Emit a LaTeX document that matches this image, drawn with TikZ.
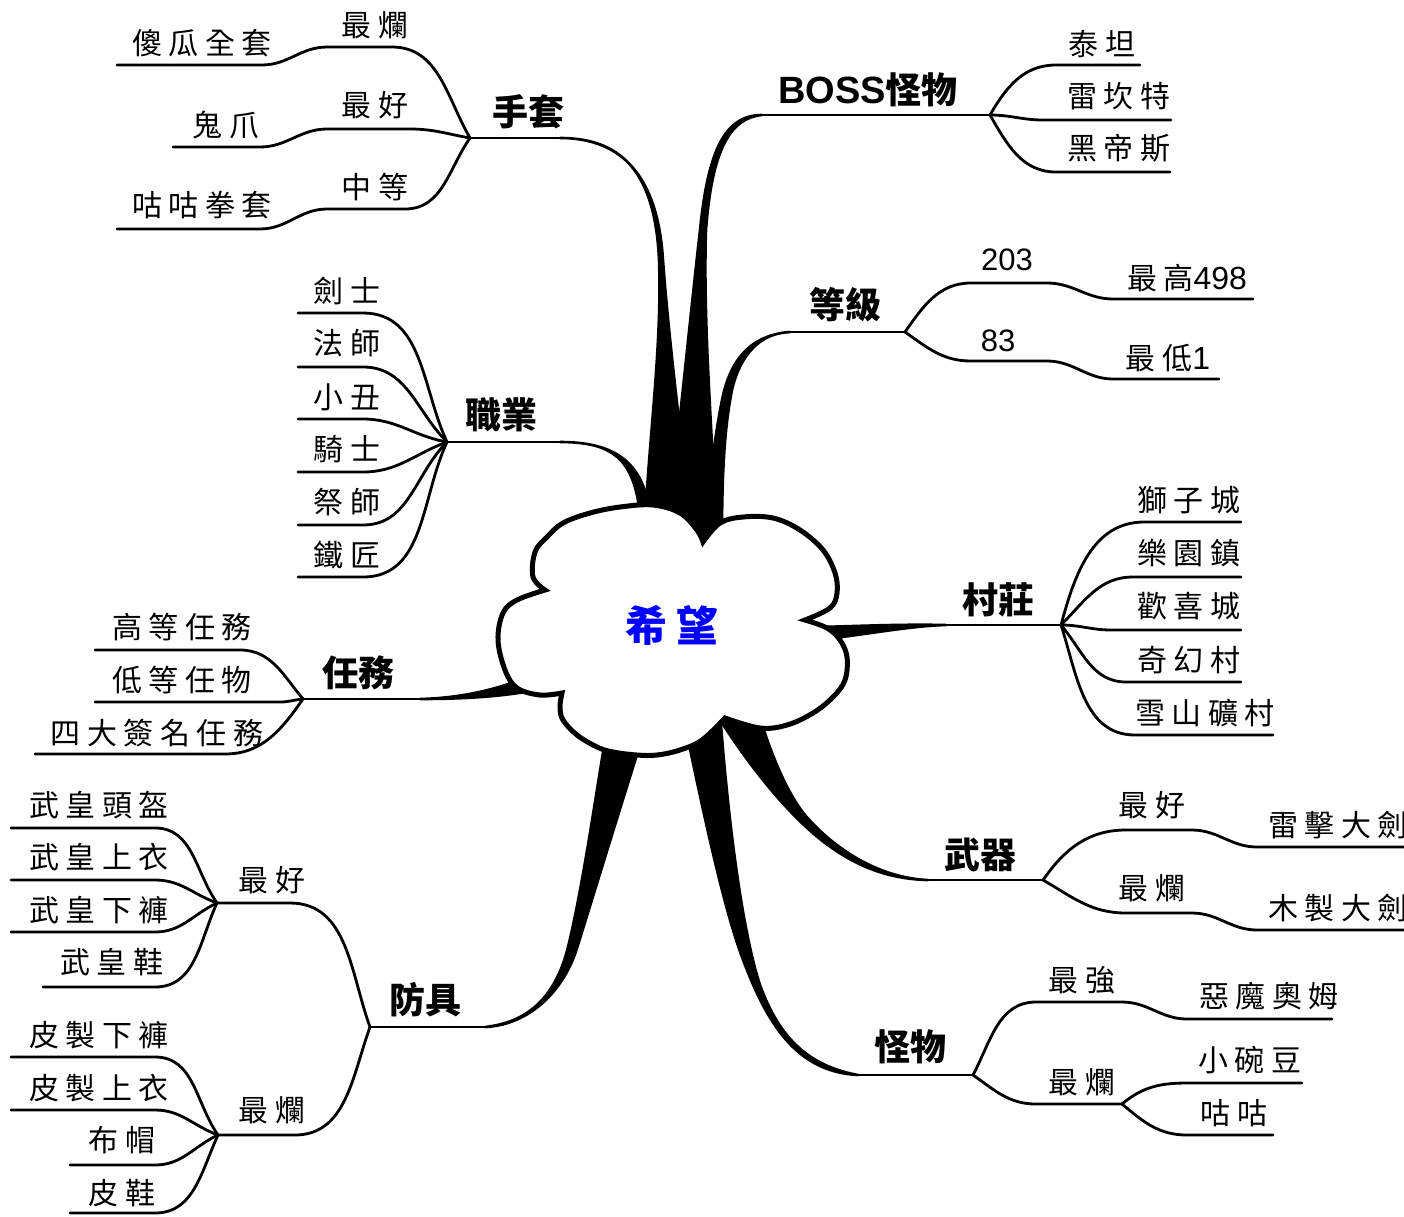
\documentclass[tikz,border=0pt]{standalone}
\usepackage{fontspec}
\setmainfont{Noto Sans CJK TC}
\newfontfamily\twigfont[LetterSpace=22]{Noto Sans CJK TC}
\newfontfamily\numfont{Liberation Sans}

\begin{document}
\begin{tikzpicture}[x=1pt, y=-1pt,
    leaf/.style={font=\twigfont\fontsize{30}{30}\selectfont, inner sep=0pt},
    num/.style={font=\numfont\fontsize{31}{31}\selectfont, inner sep=0pt},
    arm/.style={font=\bfseries\fontsize{36}{36}\selectfont, inner sep=0pt},
    twig/.style={line width=2.8pt, line cap=round, line join=round},
    limb/.style={fill=black, line width=2.6pt, line join=round},
    bubble/.style={fill=white, line width=5pt, line join=miter}]
    \useasboundingbox (0,0) rectangle (1404,1216);

    \coordinate (gl-fork) at (470,138);
    \coordinate (gl-end) at (560,138);
    \coordinate (job-fork) at (447,442);
    \coordinate (job-end) at (560,442);
    \coordinate (task-fork) at (303,699);
    \coordinate (task-end) at (420,699);
    \coordinate (arm-fork) at (370,1027);
    \coordinate (arm-end) at (485,1027);
    \coordinate (boss-end) at (762,115);
    \coordinate (boss-fork) at (990,115);
    \coordinate (lv-end) at (790,332);
    \coordinate (lv-fork) at (905,332);
    \coordinate (vil-end) at (946,625);
    \coordinate (vil-fork) at (1061,625);
    \coordinate (wpn-end) at (928,880);
    \coordinate (wpn-fork) at (1043,880);
    \coordinate (mon-end) at (858,1075);
    \coordinate (mon-fork) at (973,1075);

    \filldraw[limb] (gl-end) .. controls (620,138) and (655,170) .. (659,260)
        .. controls (662,340) and (650,430) .. (645,520) -- (692,530)
        .. controls (680,430) and (668,330) .. (663,260)
        .. controls (658,180) and (625,138) .. (gl-end) -- cycle;
    \filldraw[limb] (668,525) .. controls (680,420) and (692,300) .. (700,230)
        .. controls (708,150) and (725,115) .. (boss-end)
        .. controls (730,118) and (712,150) .. (706,230)
        .. controls (703,320) and (712,430) .. (717,540) -- cycle;
    \filldraw[limb] (lv-end) .. controls (750,335) and (730,360) .. (722,400)
        .. controls (716,430) and (710,470) .. (705,540) -- (722,535)
        .. controls (722,460) and (726,420) .. (732,390)
        .. controls (740,355) and (760,333) .. (lv-end) -- cycle;
    \filldraw[limb] (job-end) .. controls (612,442) and (634,458) .. (640,515) -- (650,515)
        .. controls (644,462) and (615,442) .. (job-end) -- cycle;
    \filldraw[limb] (task-end) .. controls (460,698) and (495,690) .. (525,678) -- (525,692)
        .. controls (495,697) and (460,699) .. (task-end) -- cycle;
    \filldraw[limb] (arm-end) .. controls (530,1022) and (556,995) .. (568,947)
        .. controls (582,890) and (595,800) .. (605,740) -- (640,745)
        .. controls (618,815) and (595,890) .. (578,945)
        .. controls (565,990) and (530,1025) .. (arm-end) -- cycle;
    \filldraw[limb] (687,735) .. controls (705,820) and (725,915) .. (745,965)
        .. controls (770,1030) and (800,1072) .. (mon-end)
        .. controls (810,1066) and (780,1040) .. (760,985)
        .. controls (742,930) and (728,820) .. (720,712) -- cycle;
    \filldraw[limb] (715,712) .. controls (745,760) and (780,805) .. (815,835)
        .. controls (845,860) and (880,879) .. (wpn-end)
        .. controls (880,878) and (835,850) .. (805,815)
        .. controls (785,790) and (770,750) .. (760,718) -- cycle;
    \filldraw[limb] (vil-end) .. controls (900,624) and (860,626) .. (818,627) -- (818,640)
        .. controls (870,634) and (910,626) .. (vil-end) -- cycle;

    \filldraw[bubble]
        plot[smooth, tension=0.6] coordinates {(545,590) (533,577) (535,552) (547,537) (563,523) (590,513) (620,507) (653,505) (680,513) (697,530) (703,542)}
        -- plot[smooth, tension=0.6] coordinates {(703,542) (720,523) (743,517) (773,518) (800,530) (823,550) (835,573) (837,593) (830,608) (805,620)}
        -- plot[smooth, tension=0.6] coordinates {(805,620) (827,628) (840,640) (847,657) (845,680) (833,697) (813,713) (787,725) (760,728) (725,718)}
        -- plot[smooth, tension=0.6] coordinates {(725,718) (702,740) (680,750) (657,755) (637,755) (613,752) (597,747) (577,735) (563,720) (560,707) (562,693)}
        -- plot[smooth, tension=0.6] coordinates {(562,693) (540,695) (517,688) (505,670) (498,640) (503,613) (517,600) (545,590)}
        -- cycle;
    \node[font=\twigfont\bfseries\fontsize{42}{42}\selectfont, text=blue, inner sep=0pt] (hope) at (672,625) {希望};

    \node[arm] (gloves) at (528,112) {手套};
    \node[leaf] (gl-worst) at (375,25) {最爛};
    \node[leaf] (fool) at (202,43) {傻瓜全套};
    \node[leaf] (gl-best) at (375,105) {最好};
    \node[leaf] (claw) at (226,125) {鬼爪};
    \node[leaf] (gl-mid) at (375,187) {中等};
    \node[leaf] (gfist) at (202,205) {咕咕拳套};
    \coordinate (glw-a) at (327,47);
    \coordinate (glw-b) at (392,47);
    \coordinate (fool-a) at (117,65);
    \coordinate (fool-b) at (262,65);
    \coordinate (glb-a) at (327,129);
    \coordinate (glb-b) at (410,129);
    \coordinate (claw-a) at (173,147);
    \coordinate (claw-b) at (260,147);
    \coordinate (glm-a) at (327,209);
    \coordinate (glm-b) at (405,209);
    \coordinate (gfist-a) at (117,229);
    \coordinate (gfist-b) at (260,229);
    \draw[twig] (fool-a) -- (fool-b) to[out=0,in=180] (glw-a) -- (glw-b) to[out=0,in=120] (gl-fork);
    \draw[twig] (claw-a) -- (claw-b) to[out=0,in=180] (glb-a) -- (glb-b) to[out=0,in=170] (gl-fork);
    \draw[twig] (gfist-a) -- (gfist-b) to[out=0,in=180] (glm-a) -- (glm-b) to[out=0,in=235] (gl-fork);
    \draw[twig] (gl-fork) -- (gl-end);

    \node[arm] (jobs) at (501,415) {職業};
    \node[leaf] (sword) at (347,291) {劍士};
    \node[leaf] (mage) at (347,343) {法師};
    \node[leaf] (clown) at (347,397) {小丑};
    \node[leaf] (knight) at (347,449) {騎士};
    \node[leaf] (priest) at (347,502) {祭師};
    \node[leaf] (smith) at (347,555) {鐵匠};
    \coordinate (sword-a) at (298,313);
    \coordinate (sword-b) at (363,313);
    \coordinate (mage-a) at (298,367);
    \coordinate (mage-b) at (363,367);
    \coordinate (clown-a) at (298,419);
    \coordinate (clown-b) at (363,419);
    \coordinate (knight-a) at (298,472);
    \coordinate (knight-b) at (363,472);
    \coordinate (priest-a) at (298,525);
    \coordinate (priest-b) at (363,525);
    \coordinate (smith-a) at (298,577);
    \coordinate (smith-b) at (363,577);
    \draw[twig] (sword-a) -- (sword-b) to[out=0,in=115] (job-fork);
    \draw[twig] (mage-a) -- (mage-b) to[out=0,in=135] (job-fork);
    \draw[twig] (clown-a) -- (clown-b) to[out=0,in=170] (job-fork);
    \draw[twig] (knight-a) -- (knight-b) to[out=0,in=200] (job-fork);
    \draw[twig] (priest-a) -- (priest-b) to[out=0,in=225] (job-fork);
    \draw[twig] (smith-a) -- (smith-b) to[out=0,in=245] (job-fork);
    \draw[twig] (job-fork) -- (job-end);

    \node[arm] (tasks) at (358,673) {任務};
    \node[leaf] (high-task) at (182,627) {高等任務};
    \node[leaf] (low-task) at (182,680) {低等任物};
    \node[leaf] (sign-task) at (157,733) {四大簽名任務};
    \coordinate (high-a) at (95,650);
    \coordinate (high-b) at (240,650);
    \coordinate (low-a) at (95,702);
    \coordinate (low-b) at (280,702);
    \coordinate (sign-a) at (35,754);
    \coordinate (sign-b) at (225,754);
    \draw[twig] (high-a) -- (high-b) to[out=0,in=130] (task-fork);
    \draw[twig] (low-a) -- (low-b) to[out=0,in=185] (task-fork);
    \draw[twig] (sign-a) -- (sign-b) to[out=0,in=235] (task-fork);
    \draw[twig] (task-fork) -- (task-end);

    \node[arm] (armor) at (425,1000) {防具};
    \node[leaf] (ab) at (272,880) {最好};
    \node[leaf] (aw) at (272,1110) {最爛};
    \coordinate (ab-fork) at (217,903);
    \coordinate (ab-b) at (290,903);
    \coordinate (aw-fork) at (218,1135);
    \coordinate (aw-b) at (295,1135);
    \draw[twig] (ab-fork) -- (ab-b) to[out=0,in=110] (arm-fork);
    \draw[twig] (aw-fork) -- (aw-b) to[out=0,in=250] (arm-fork);
    \draw[twig] (arm-fork) -- (arm-end);
    \node[leaf] (helm) at (99,805) {武皇頭盔};
    \node[leaf] (coat) at (99,857) {武皇上衣};
    \node[leaf] (pants) at (99,910) {武皇下褲};
    \node[leaf] (shoes) at (112,962) {武皇鞋};
    \node[leaf] (lpants) at (99,1035) {皮製下褲};
    \node[leaf] (lcoat) at (99,1088) {皮製上衣};
    \node[leaf] (hat) at (122,1140) {布帽};
    \node[leaf] (lshoes) at (122,1193) {皮鞋};
    \coordinate (helm-a) at (11,828);
    \coordinate (helm-b) at (155,828);
    \coordinate (coat-a) at (11,880);
    \coordinate (coat-b) at (155,880);
    \coordinate (pants-a) at (11,932);
    \coordinate (pants-b) at (155,932);
    \coordinate (shoes-a) at (43,987);
    \coordinate (shoes-b) at (155,987);
    \coordinate (lpants-a) at (11,1057);
    \coordinate (lpants-b) at (155,1057);
    \coordinate (lcoat-a) at (11,1110);
    \coordinate (lcoat-b) at (155,1110);
    \coordinate (hat-a) at (70,1165);
    \coordinate (hat-b) at (155,1165);
    \coordinate (lshoes-a) at (70,1213);
    \coordinate (lshoes-b) at (155,1213);
    \draw[twig] (helm-a) -- (helm-b) to[out=0,in=125] (ab-fork);
    \draw[twig] (coat-a) -- (coat-b) to[out=0,in=160] (ab-fork);
    \draw[twig] (pants-a) -- (pants-b) to[out=0,in=205] (ab-fork);
    \draw[twig] (shoes-a) -- (shoes-b) to[out=0,in=245] (ab-fork);
    \draw[twig] (lpants-a) -- (lpants-b) to[out=0,in=125] (aw-fork);
    \draw[twig] (lcoat-a) -- (lcoat-b) to[out=0,in=160] (aw-fork);
    \draw[twig] (hat-a) -- (hat-b) to[out=0,in=205] (aw-fork);
    \draw[twig] (lshoes-a) -- (lshoes-b) to[out=0,in=245] (aw-fork);

    \node[arm] (boss) at (868,90) {{\numfont\fontsize{38}{38}\selectfont BOSS}怪物};
    \node[leaf] (titan) at (1102,44) {泰坦};
    \node[leaf] (raikant) at (1119,96) {雷坎特};
    \node[leaf] (hades) at (1119,148) {黑帝斯};
    \coordinate (titan-a) at (1056,65);
    \coordinate (titan-b) at (1140,65);
    \coordinate (raikant-a) at (1043,120);
    \coordinate (raikant-b) at (1171,120);
    \coordinate (hades-a) at (1056,172);
    \coordinate (hades-b) at (1170,172);
    \draw[twig] (boss-end) -- (boss-fork);
    \draw[twig] (boss-fork) to[out=60,in=180] (titan-a) -- (titan-b);
    \draw[twig] (boss-fork) to[out=0,in=180] (raikant-a) -- (raikant-b);
    \draw[twig] (boss-fork) to[out=-60,in=180] (hades-a) -- (hades-b);

    \node[arm] (level) at (845,305) {等級};
    \node[num] (top-lv) at (1007,260) {203};
    \node[num] (low-lv) at (998,341) {83};
    \node[leaf] (max-lv) at (1187,278) {最高{\numfont\fontsize{32}{32}\selectfont 498}};
    \node[leaf] (min-lv) at (1168,358) {最低{\numfont\fontsize{32}{32}\selectfont 1}};
    \coordinate (top-a) at (971,283);
    \coordinate (top-b) at (1047,283);
    \coordinate (max-a) at (1113,299);
    \coordinate (max-b) at (1253,299);
    \coordinate (low-lv-a) at (971,361);
    \coordinate (low-lv-b) at (1047,361);
    \coordinate (min-a) at (1113,379);
    \coordinate (min-b) at (1219,379);
    \draw[twig] (lv-end) -- (lv-fork);
    \draw[twig] (lv-fork) to[out=55,in=180] (top-a) -- (top-b) to[out=0,in=180] (max-a) -- (max-b);
    \draw[twig] (lv-fork) to[out=-35,in=180] (low-lv-a) -- (low-lv-b) to[out=0,in=180] (min-a) -- (min-b);

    \node[arm] (village) at (998,600) {村莊};
    \node[leaf] (lion) at (1189,500) {獅子城};
    \node[leaf] (paradise) at (1189,553) {樂園鎮};
    \node[leaf] (joy) at (1189,606) {歡喜城};
    \node[leaf] (fantasy) at (1189,660) {奇幻村};
    \node[leaf] (snow) at (1205,713) {雪山礦村};
    \coordinate (lion-a) at (1144,522);
    \coordinate (lion-b) at (1241,522);
    \coordinate (paradise-a) at (1133,577);
    \coordinate (paradise-b) at (1241,577);
    \coordinate (joy-a) at (1111,630);
    \coordinate (joy-b) at (1241,630);
    \coordinate (fantasy-a) at (1126,682);
    \coordinate (fantasy-b) at (1241,682);
    \coordinate (snow-a) at (1135,735);
    \coordinate (snow-b) at (1273,735);
    \draw[twig] (vil-end) -- (vil-fork);
    \draw[twig] (vil-fork) to[out=75,in=180] (lion-a) -- (lion-b);
    \draw[twig] (vil-fork) to[out=45,in=180] (paradise-a) -- (paradise-b);
    \draw[twig] (vil-fork) to[out=0,in=180] (joy-a) -- (joy-b);
    \draw[twig] (vil-fork) to[out=-50,in=180] (fantasy-a) -- (fantasy-b);
    \draw[twig] (vil-fork) to[out=-72,in=180] (snow-a) -- (snow-b);

    \node[arm] (weapon) at (980,855) {武器};
    \node[leaf] (wb) at (1152,805) {最好};
    \node[leaf] (ww) at (1152,888) {最爛};
    \node[leaf, anchor=west] (thunder) at (1268,825) {雷擊大劍};
    \node[leaf, anchor=west] (wood) at (1268,908) {木製大劍};
    \coordinate (wb-a) at (1126,830);
    \coordinate (wb-b) at (1192,830);
    \coordinate (thunder-a) at (1257,847);
    \coordinate (thunder-b) at (1420,847);
    \coordinate (ww-a) at (1126,913);
    \coordinate (ww-b) at (1192,913);
    \coordinate (wood-a) at (1257,930);
    \coordinate (wood-b) at (1420,930);
    \draw[twig] (wpn-end) -- (wpn-fork);
    \draw[twig] (wpn-fork) to[out=55,in=180] (wb-a) -- (wb-b) to[out=0,in=180] (thunder-a) -- (thunder-b);
    \draw[twig] (wpn-fork) to[out=-30,in=180] (ww-a) -- (ww-b) to[out=0,in=180] (wood-a) -- (wood-b);

    \node[arm] (monster) at (910,1047) {怪物};
    \node[leaf] (ms) at (1082,980) {最強};
    \node[leaf] (mw) at (1082,1082) {最爛};
    \node[leaf] (demon) at (1269,996) {惡魔奧姆};
    \node[leaf] (pea) at (1250,1060) {小碗豆};
    \node[leaf] (gugu) at (1234,1113) {咕咕};
    \coordinate (ms-a) at (1036,1002);
    \coordinate (ms-b) at (1122,1002);
    \coordinate (demon-a) at (1187,1019);
    \coordinate (demon-b) at (1332,1019);
    \coordinate (mw-a) at (1036,1104);
    \coordinate (mw-fork) at (1122,1104);
    \coordinate (pea-a) at (1187,1083);
    \coordinate (pea-b) at (1302,1083);
    \coordinate (gugu-a) at (1187,1135);
    \coordinate (gugu-b) at (1273,1135);
    \draw[twig] (mon-end) -- (mon-fork);
    \draw[twig] (mon-fork) to[out=62,in=180] (ms-a) -- (ms-b) to[out=0,in=180] (demon-a) -- (demon-b);
    \draw[twig] (mon-fork) to[out=-35,in=180] (mw-a) -- (mw-fork);
    \draw[twig] (mw-fork) to[out=40,in=180] (pea-a) -- (pea-b);
    \draw[twig] (mw-fork) to[out=-40,in=180] (gugu-a) -- (gugu-b);
\end{tikzpicture}
\end{document}
